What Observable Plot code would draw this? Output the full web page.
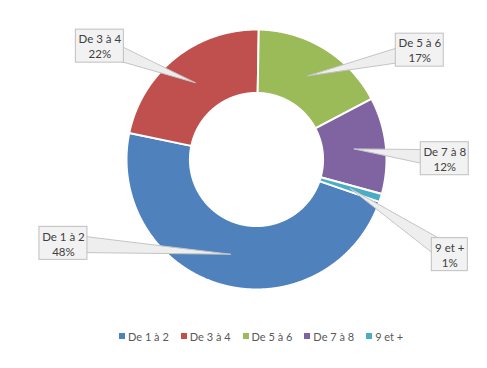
<!DOCTYPE html>
<html><head><meta charset="utf-8">
<script src="https://cdn.jsdelivr.net/npm/d3@7"></script>
<script src="https://cdn.jsdelivr.net/npm/@observablehq/plot@0.6"></script>
<style>
body{margin:0;background:#fff;font-family:Lato,sans-serif;}
#chart svg{display:block;}
#legend{height:28px;display:flex;align-items:center;padding-left:119px;font-size:11px;color:#595959;}
.item{display:flex;align-items:center;margin-right:12px;white-space:nowrap;}
.sw{width:6px;height:6px;margin-right:3px;}
</style></head><body><div id="chart"></div><div id="legend"></div>
<script>
const categories = ["De 1 à 2","De 3 à 4","De 5 à 6","De 7 à 8","9 et +"];
const values = [48, 22, 17, 12, 1];
const colors = ["#4F81BD","#C0504D","#9BBB59","#8064A2","#4BACC6"];
// layout (not data): callout box centers in unit-radius coordinates, box widths in px
const labelPos = [[-1.485,-0.645],[-1.205,0.872],[1.256,0.841],[1.448,0.006],[1.487,-0.732]];
const boxWidth = [48,48,48,48,36];
const boxHeight = 33;
const startDeg = 109;
const R = 130, innerFrac = 0.512;

const total = d3.sum(values);
const a0 = startDeg * Math.PI / 180;
const arcs = d3.pie().sort(null).value(d => d).startAngle(a0).endAngle(a0 + 2 * Math.PI)(values);

const slicePts = [];
arcs.forEach((a, i) => {
  const n = Math.max(2, Math.ceil((a.endAngle - a.startAngle) / 0.005));
  for (let k = 0; k <= n; k++) {
    const t = a.startAngle + (a.endAngle - a.startAngle) * k / n;
    slicePts.push({cat: categories[i], x: Math.sin(t), y: Math.cos(t)});
  }
  for (let k = n; k >= 0; k--) {
    const t = a.startAngle + (a.endAngle - a.startAngle) * k / n;
    slicePts.push({cat: categories[i], x: innerFrac * Math.sin(t), y: innerFrac * Math.cos(t)});
  }
});

const rMid = (1 + innerFrac) / 2;
const leaders = [];
const boxes = [];
arcs.forEach((a, i) => {
  const m = (a.startAngle + a.endAngle) / 2;
  const ax = rMid * Math.sin(m), ay = rMid * Math.cos(m);
  const [bx, by] = labelPos[i];
  const dx = bx - ax, dy = by - ay, L = Math.hypot(dx, dy);
  const nx = -dy / L, ny = dx / L, hw = 9 / R;
  leaders.push({id: i, x: ax, y: ay});
  leaders.push({id: i, x: bx + nx * hw, y: by + ny * hw});
  leaders.push({id: i, x: bx - nx * hw, y: by - ny * hw});
  const w = boxWidth[i] / 2 / R, h = boxHeight / 2 / R;
  boxes.push({x1: bx - w, x2: bx + w, y1: by - h, y2: by + h, x: bx, y: by,
    label: categories[i] + "\n" + Math.round(values[i] / total * 100) + "%"});
});

const plot = Plot.plot({
  width: 487, height: 322,
  margin: 0,
  x: {domain: [-1, 1], range: [126, 386], axis: null},
  y: {domain: [-1, 1], range: [289, 29], axis: null},
  color: {type: "ordinal", domain: categories, range: colors},
  style: {fontFamily: "Lato, sans-serif", background: "#fff"},
  marks: [
    Plot.line(slicePts, {x: "x", y: "y", z: "cat", fill: "cat", stroke: "white", strokeWidth: 2, curve: "linear-closed"}),
    Plot.line(leaders, {x: "x", y: "y", z: "id", fill: "#eeeeee", stroke: "#c4c4c4", strokeWidth: 1, curve: "linear-closed"}),
    Plot.rect(boxes, {x1: "x1", x2: "x2", y1: "y1", y2: "y2", fill: "#f2f2f2", stroke: "#bfbfbf", strokeWidth: 1}),
    Plot.text(boxes, {x: "x", y: "y", text: "label", fontSize: 11.5, fill: "#404040", lineHeight: 1.3})
  ]
});
document.getElementById("chart").appendChild(plot);

const lg = document.getElementById("legend");
categories.forEach((c, i) => {
  const it = document.createElement("div"); it.className = "item";
  const sw = document.createElement("span"); sw.className = "sw"; sw.style.background = colors[i];
  const tx = document.createElement("span"); tx.textContent = c;
  it.appendChild(sw); it.appendChild(tx); lg.appendChild(it);
});
</script></body></html>
